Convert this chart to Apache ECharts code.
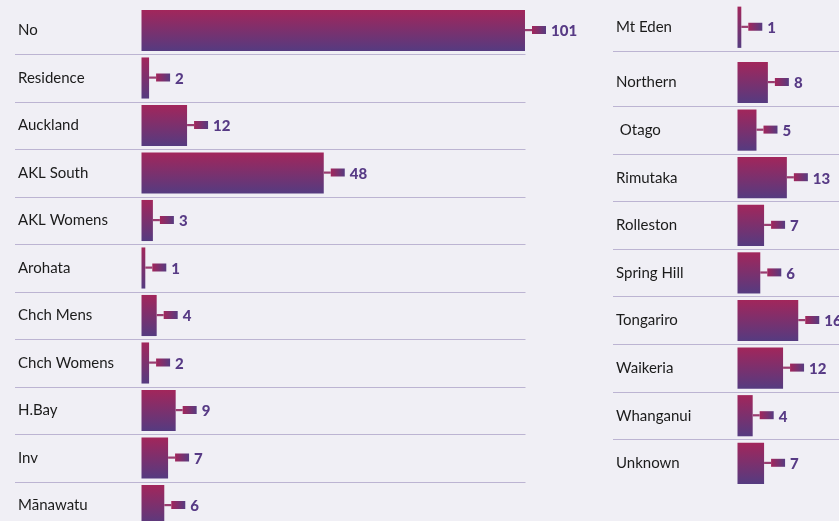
<!DOCTYPE html>
<html>
<head>
<meta charset="utf-8">
<script src="https://cdn.jsdelivr.net/npm/echarts@6/dist/echarts.min.js"></script>
<style>
html,body{margin:0;padding:0;background:#f0eff5;}
#chart{width:839px;height:521px;}
</style>
</head>
<body>
<div id="chart"></div>
<script>
// ---- data ----
const leftCategories = ['No','Residence','Auckland','AKL South','AKL Womens','Arohata','Chch Mens','Chch Womens','H.Bay','Inv','Mānawatu'];
const leftValues = [101,2,12,48,3,1,4,2,9,7,6];
const rightCategories = ['Mt Eden','Northern',' Otago','Rimutaka','Rolleston','Spring Hill','Tongariro','Waikeria','Whanganui','Unknown'];
const rightValues = [1,8,5,13,7,6,16,12,4,7];

// ---- styles ----
const PX_PER_UNIT = 3.797;
const barGrad = {type:'linear',x:0,y:0,x2:0,y2:1,colorStops:[{offset:0,color:'#a2265b'},{offset:1,color:'#553b80'}]};
const tipGrad = {type:'linear',x:0,y:0,x2:1,y2:0,colorStops:[{offset:0,color:'#a2265b'},{offset:1,color:'#573b80'}]};
const sepColor = '#bcb4d2';
const labelFont = 'Lato, "Open Sans", sans-serif';

function renderBar(params, api) {
  const v = api.value(0);
  const cat = api.value(1);
  const p0 = api.coord([0, cat]);
  const p1 = api.coord([v, cat]);
  const band = api.size([0, 1])[1];
  const h = band * 0.865;
  const cy = p0[1];
  const x1 = p1[0];
  return {
    type: 'group',
    children: [
      {type:'rect', shape:{x:p0[0], y:cy - h/2, width:x1 - p0[0], height:h}, style:{fill:barGrad}},
      {type:'rect', shape:{x:x1, y:cy - 1.5, width:7, height:2.2}, style:{fill:'#9a3d70'}},
      {type:'rect', shape:{x:x1 + 7, y:cy - 4.5, width:14, height:8}, style:{fill:tipGrad}},
      {type:'text', style:{x:x1 + 26, y:cy + 1, text:String(v), fill:'#573a85',
        fontSize:15, fontWeight:900, fontFamily:labelFont, align:'left', verticalAlign:'middle'}}
    ]
  };
}

function makeGrid(left, width, top, height) {
  return {left:left, width:width, top:top, height:height, outerBoundsMode:'none', containLabel:false};
}
function makeX(idx, zeroX, gridLeft, gridRight) {
  return {gridIndex:idx, type:'value', show:false,
    min:-(zeroX - gridLeft)/PX_PER_UNIT, max:(gridRight - zeroX)/PX_PER_UNIT};
}
function makeY(idx, cats, showMin, showMax) {
  return {gridIndex:idx, type:'category', data:cats, inverse:true,
    axisLine:{show:false}, axisTick:{show:false},
    axisLabel:{inside:true, margin:3, color:'#1b1b1b', fontSize:15, fontFamily:labelFont, align:'left'},
    splitLine:{show:true, showMinLine:showMin, showMaxLine:showMax, lineStyle:{color:sepColor, width:1}}};
}

const rightTopCats = rightCategories.slice(0,1);
const rightTopVals = rightValues.slice(0,1);
const rightRestCats = rightCategories.slice(1);
const rightRestVals = rightValues.slice(1);

const option = {
  backgroundColor:'#f0eff5',
  animation:false,
  grid:[
    makeGrid(15, 510.5, 6.75, 47.5*leftCategories.length),
    makeGrid(613, 226, 3.4, 47.7),
    makeGrid(613, 226, 58.7, 47.6*rightRestCats.length)
  ],
  xAxis:[
    makeX(0, 141.5, 15, 525.5),
    makeX(1, 737.5, 613, 839),
    makeX(2, 737.5, 613, 839)
  ],
  yAxis:[
    makeY(0, leftCategories, false, false),
    makeY(1, rightTopCats, false, true),
    makeY(2, rightRestCats, false, false)
  ],
  series:[
    {type:'custom', xAxisIndex:0, yAxisIndex:0, renderItem:renderBar, clip:false,
      encode:{x:0, y:1}, data:leftValues.map((v,i)=>[v,i])},
    {type:'custom', xAxisIndex:1, yAxisIndex:1, renderItem:renderBar, clip:false,
      encode:{x:0, y:1}, data:rightTopVals.map((v,i)=>[v,i])},
    {type:'custom', xAxisIndex:2, yAxisIndex:2, renderItem:renderBar, clip:false,
      encode:{x:0, y:1}, data:rightRestVals.map((v,i)=>[v,i])}
  ]
};

const chart = echarts.init(document.getElementById('chart'), null, {renderer:'canvas'});
chart.setOption(option);
</script>
</body>
</html>
